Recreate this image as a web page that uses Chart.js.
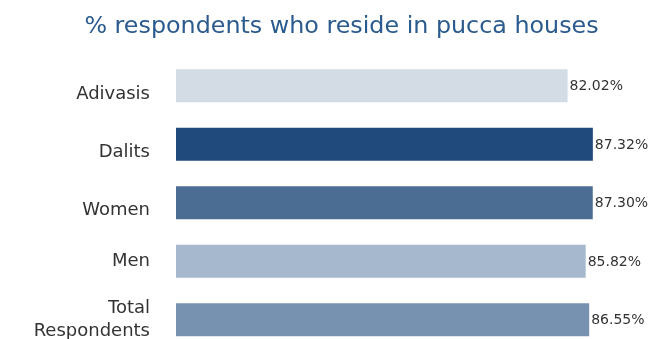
<!DOCTYPE html>
<html>
<head>
<meta charset="utf-8">
<script src="https://cdn.jsdelivr.net/npm/chart.js@4"></script>
<style>
  html, body { margin: 0; padding: 0; background: #fff; overflow: hidden; }
  #wrap { position: relative; width: 651px; height: 352px; }
</style>
</head>
<body>
<div id="wrap"><canvas id="puccaChart"></canvas></div>
<script>
const categories = ["Adivasis", "Dalits", "Women", "Men", ["Total", "Respondents"]];
const shares = [82.02, 87.32, 87.30, 85.82, 86.55];
const barColors = ["#d3dbe5", "#204a7b", "#4b6c93", "#a6b8cd", "#7792b1"];

const FONT = "'DejaVu Sans', sans-serif";
// the single-line names above "Men" sit a little below their bars
const labelDrop = [8.5, 8.5, 7.5, 0, 0];

// category names in the left column, right-aligned, and the
// percentage just past the end of each bar
const barText = {
  id: "barText",
  afterDatasetsDraw(chart) {
    const { ctx, chartArea } = chart;
    const meta = chart.getDatasetMeta(0);
    ctx.save();
    ctx.fillStyle = "#333333";
    ctx.textBaseline = "middle";

    ctx.font = "18px " + FONT;
    ctx.textAlign = "right";
    meta.data.forEach((bar, i) => {
      const lines = [].concat(categories[i]);
      const lh = 23;
      const y0 = bar.y + labelDrop[i] - ((lines.length - 1) * lh) / 2;
      lines.forEach((line, k) => ctx.fillText(line, chartArea.left - 26, y0 + k * lh));
    });

    ctx.font = "14px " + FONT;
    ctx.textAlign = "left";
    meta.data.forEach((bar, i) => {
      ctx.fillText(shares[i].toFixed(2) + "%", bar.x + 2, bar.y + 1);
    });
    ctx.restore();
  },
};

new Chart(document.getElementById("puccaChart"), {
  type: "bar",
  data: {
    labels: categories,
    datasets: [
      {
        data: shares,
        backgroundColor: barColors,
        borderWidth: 0,
        barPercentage: 0.565,
        categoryPercentage: 1,
      },
    ],
  },
  options: {
    indexAxis: "y",
    responsive: true,
    maintainAspectRatio: false,
    animation: false,
    layout: { padding: { left: 32, right: 0, top: 0, bottom: 3 } },
    plugins: {
      legend: { display: false },
      tooltip: { enabled: false },
      title: {
        display: true,
        text: "% respondents who reside in pucca houses",
        color: "#2b5a8e",
        font: { family: FONT, size: 23.8, weight: "normal", lineHeight: 1.2 },
        padding: { top: 13, bottom: 15 },
      },
    },
    scales: {
      x: { display: false, min: 0, max: 99.5 },
      y: {
        grid: { display: false, drawTicks: false },
        border: { display: false },
        ticks: { display: false },
        afterFit(scale) {
          // fixed-width label column drawn by barText
          scale.width = 144;
          scale.paddingTop = 0;
          scale.paddingBottom = 0;
        },
      },
    },
  },
  plugins: [barText],
});
</script>
</body>
</html>
